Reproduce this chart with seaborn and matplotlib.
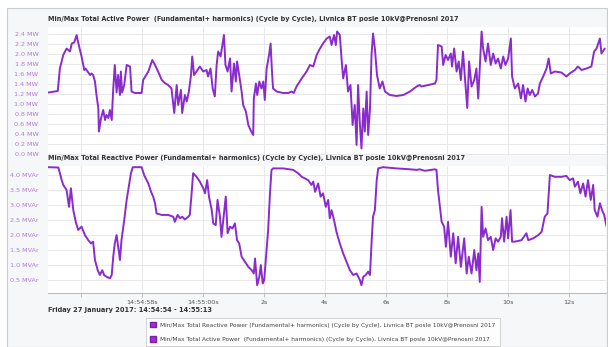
import numpy as np
import pandas as pd
import matplotlib
matplotlib.use("Agg")
import matplotlib.pyplot as plt
from matplotlib.patches import Rectangle, Patch
import seaborn as sns

# Time in seconds relative to 14:55:00
active_t = [-5.07, -4.76, -4.69, -4.58, -4.47, -4.36, -4.30, -4.22, -4.14, -4.09, -4.03, -3.98,
            -3.89, -3.85, -3.70, -3.65, -3.60, -3.54, -3.49, -3.43, -3.41, -3.34, -3.27, -3.21,
            -3.16, -3.10, -3.05, -2.99, -2.94, -2.89, -2.83, -2.78, -2.72, -2.69, -2.65, -2.58,
            -2.50, -2.39, -2.34, -2.23, -2.01, -1.96, -1.79, -1.66, -1.57, -1.47, -1.35, -1.25,
            -1.14, -1.03, -0.94, -0.86, -0.81, -0.72, -0.68, -0.59, -0.53, -0.46, -0.39, -0.35,
            -0.29, -0.21, -0.10, 0.01, 0.12, 0.17, 0.25, 0.32, 0.39, 0.45, 0.50, 0.58, 0.63, 0.69,
            0.74, 0.81, 0.89, 0.94, 1.02, 1.08, 1.12, 1.19, 1.27, 1.32, 1.41, 1.49, 1.56, 1.65,
            1.67, 1.74, 1.78, 1.85, 1.92, 1.98, 2.03, 2.09, 2.17, 2.22, 2.26, 2.30, 2.42, 2.63,
            2.80, 2.91, 2.98, 3.07, 3.24, 3.40, 3.51, 3.62, 3.73, 3.84, 3.94, 4.06, 4.16, 4.22,
            4.30, 4.36, 4.40, 4.49, 4.55, 4.60, 4.69, 4.76, 4.84, 4.91, 4.98, 5.04, 5.09, 5.15,
            5.20, 5.26, 5.31, 5.37, 5.42, 5.48, 5.53, 5.58, 5.64, 5.71, 5.80, 5.89, 5.97, 6.13,
            6.35, 6.57, 6.79, 7.01, 7.11, 7.17, 7.39, 7.61, 7.66, 7.71, 7.83, 7.88, 7.96, 8.04,
            8.13, 8.17, 8.24, 8.32, 8.39, 8.46, 8.53, 8.59, 8.67, 8.73, 8.81, 8.90, 8.97, 9.03,
            9.08, 9.14, 9.19, 9.27, 9.35, 9.44, 9.52, 9.60, 9.68, 9.77, 9.85, 9.92, 10.01, 10.10,
            10.14, 10.23, 10.34, 10.43, 10.50, 10.58, 10.65, 10.72, 10.80, 10.89, 10.99, 11.05,
            11.16, 11.27, 11.34, 11.41, 11.54, 11.76, 11.92, 12.03, 12.20, 12.30, 12.42, 12.58,
            12.74, 12.83, 12.91, 13.02, 13.07, 13.18]
active_mw = [1.23, 1.26, 1.71, 1.98, 2.11, 2.05, 2.21, 2.23, 2.38, 2.23, 2.08, 1.95,
             1.68, 1.71, 1.58, 1.61, 1.58, 1.45, 1.18, 0.92, 0.45, 0.72, 0.88, 0.68,
             0.78, 0.72, 0.88, 0.68, 1.31, 1.78, 1.23, 1.58, 1.18, 1.65, 1.23, 1.38,
             1.78, 1.75, 1.25, 1.22, 1.22, 1.48, 1.65, 1.88, 1.78, 1.65, 1.48, 1.42,
             1.38, 1.31, 0.82, 1.38, 0.98, 1.28, 0.82, 1.18, 1.05, 1.25, 1.58, 1.95,
             1.58, 1.65, 1.75, 1.65, 1.68, 1.55, 1.71, 1.31, 1.15, 1.78, 2.05, 1.95, 2.15, 2.38,
             1.78, 1.65, 1.91, 1.25, 1.81, 1.45, 1.85, 1.58, 1.25, 0.98, 0.85, 0.58, 0.48, 0.38,
             1.11, 1.41, 1.18, 1.45, 1.31, 1.45, 1.08, 1.71, 1.98, 2.21, 1.71, 1.31, 1.25, 1.22,
             1.22, 1.25, 1.22, 1.35, 1.51, 1.65, 1.78, 1.75, 1.98, 2.11, 2.21, 2.31, 2.35, 2.18,
             2.38, 2.18, 2.45, 2.38, 1.88, 1.51, 1.78, 1.25, 1.38, 0.58, 0.98, 0.18, 1.38, 0.58,
             0.11, 0.91, 0.45, 1.25, 0.38, 0.91, 1.98, 2.41, 2.11, 1.58, 1.31, 1.45, 1.25, 1.18,
             1.16, 1.18, 1.25, 1.35, 1.38, 1.35, 1.38, 1.41, 1.48, 2.18, 2.15, 1.78, 1.98, 1.88,
             2.01, 1.75, 2.11, 1.65, 1.85, 1.48, 2.05, 1.55, 0.92, 1.85, 1.35, 1.48, 1.71, 1.11,
             1.71, 2.45, 2.11, 1.85, 2.21, 1.78, 2.01, 1.81, 1.91, 1.71, 1.95, 1.78, 1.91, 2.31,
             1.55, 1.31, 1.41, 1.11, 1.38, 1.05, 1.31, 1.18, 1.28, 1.15, 1.21, 1.41,
             1.55, 1.71, 1.91, 1.61, 1.65, 1.63, 1.55, 1.61, 1.68, 1.75, 1.68, 1.71,
             1.75, 2.05, 2.11, 2.31, 2.01, 2.11]

reactive_t = [-5.07, -4.74, -4.63, -4.58, -4.47, -4.39, -4.33, -4.25, -4.17, -4.09, -3.98, -3.87,
              -3.76, -3.67, -3.60, -3.54, -3.45, -3.38, -3.30, -3.24, -3.16, -3.05, -2.99, -2.94,
              -2.89, -2.83, -2.78, -2.72, -2.67, -2.58, -2.50, -2.43, -2.36, -2.30, -2.01, -1.92,
              -1.79, -1.70, -1.63, -1.57, -1.52, -1.35, -1.14, -0.97, -0.92, -0.83, -0.75, -0.68,
              -0.59, -0.48, -0.43, -0.37, -0.32, -0.21, -0.10, 0.01, 0.07, 0.14, 0.20, 0.29, 0.34,
              0.42, 0.48, 0.56, 0.61, 0.69, 0.75, 0.81, 0.89, 0.97, 1.05, 1.12, 1.19, 1.27, 1.38,
              1.49, 1.60, 1.67, 1.71, 1.78, 1.85, 1.90, 1.96, 2.01, 2.07, 2.14, 2.20, 2.25, 2.30,
              2.63, 2.96, 3.12, 3.24, 3.34, 3.45, 3.56, 3.62, 3.68, 3.78, 3.86, 3.94, 4.03, 4.11,
              4.16, 4.22, 4.30, 4.38, 4.49, 4.60, 4.71, 4.82, 4.93, 5.04, 5.15, 5.20, 5.26, 5.34,
              5.42, 5.48, 5.53, 5.58, 5.64, 5.70, 5.75, 5.91, 6.35, 6.79, 7.01, 7.11, 7.28, 7.61,
              7.66, 7.71, 7.83, 7.91, 7.97, 8.04, 8.13, 8.21, 8.29, 8.37, 8.46, 8.57, 8.65, 8.72,
              8.81, 8.90, 8.97, 9.03, 9.08, 9.14, 9.19, 9.27, 9.35, 9.44, 9.52, 9.60, 9.68, 9.77,
              9.81, 9.88, 9.96, 10.01, 10.09, 10.14, 10.23, 10.45, 10.61, 10.67, 10.83, 11.00,
              11.11, 11.21, 11.30, 11.38, 11.54, 11.76, 11.92, 12.03, 12.14, 12.20, 12.30, 12.38,
              12.47, 12.55, 12.63, 12.72, 12.80, 12.85, 12.94, 13.02, 13.09, 13.16, 13.24]
reactive_mvar = [4.26, 4.25, 3.83, 3.67, 3.50, 2.94, 3.56, 2.83, 2.44, 2.17, 2.28, 2.00,
                 1.83, 1.72, 1.78, 1.17, 0.83, 0.67, 0.83, 0.67, 0.61, 0.56, 0.67, 1.28,
                 1.72, 2.00, 1.61, 1.17, 1.83, 2.50, 3.17, 3.61, 4.06, 4.26, 4.26, 3.98,
                 3.72, 3.44, 3.28, 3.06, 2.72, 2.67, 2.67, 2.61, 2.44, 2.67, 2.56, 2.61,
                 2.52, 2.61, 2.67, 3.39, 4.06, 3.94, 3.78, 3.56, 3.39, 3.83, 3.28, 2.83, 2.39,
                 2.33, 3.17, 2.61, 1.94, 2.72, 3.28, 2.06, 2.28, 2.22, 2.39, 1.83, 1.72, 1.28, 1.11,
                 0.94, 0.83, 0.72, 1.22, 0.33, 0.61, 1.00, 0.39, 0.50, 1.28, 2.17, 3.39, 4.17, 4.22,
                 4.22, 4.17, 4.06, 3.94, 3.89, 3.83, 3.67, 3.78, 3.44, 3.72, 3.28, 3.39, 2.94, 3.17,
                 2.56, 2.83, 2.50, 2.11, 1.72, 1.39, 1.11, 0.83, 0.67, 0.72, 0.50, 0.33, 0.61, 0.67,
                 0.78, 0.67, 1.72, 2.61, 2.83, 3.83, 4.22, 4.26, 4.22, 4.19, 4.17, 4.19, 4.14, 4.19,
                 4.17, 3.50, 2.44, 2.28, 1.61, 2.44, 1.28, 2.06, 1.06, 1.94, 0.94, 1.89, 0.72, 1.28,
                 0.72, 1.50, 0.83, 1.39, 0.44, 2.94, 1.94, 2.22, 1.83, 1.94, 1.50, 1.89, 1.78, 1.94,
                 2.56, 1.78, 2.61, 1.89, 2.83, 1.78, 1.78, 1.83, 2.06, 1.83, 1.89, 2.00,
                 2.11, 2.61, 2.72, 4.00, 3.94, 3.94, 3.97, 3.83, 3.89, 3.61, 3.78, 3.39,
                 3.72, 3.28, 3.83, 3.17, 3.67, 2.83, 2.61, 3.06, 2.83, 2.67, 2.28]

x_ticks = [-4, -2, 0, 2, 4, 6, 8, 10, 12]
x_tick_labels = ["", "14:54:58s", "14:55:00s", "2s", "4s", "6s", "8s", "10s", "12s"]
active_ticks = [0.0, 0.2, 0.4, 0.6, 0.8, 1.0, 1.2, 1.4, 1.6, 1.8, 2.0, 2.2, 2.4]
reactive_ticks = [0.5, 1.0, 1.5, 2.0, 2.5, 3.0, 3.5, 4.0]

active_title = ("Min/Max Total Active Power  (Fundamental+ harmonics) (Cycle by Cycle), "
                "Livnica BT posle 10kV@Prenosni 2017")
reactive_title = ("Min/Max Total Reactive Power (Fundamental+ harmonics) (Cycle by Cycle), "
                  "Livnica BT posle 10kV@Prenosni 2017")
period_text = "Friday 27 January 2017: 14:54:54 - 14:55:13"

LINE = "#8a2bcc"
TICK = "#b07ad8"
GRID = "#e8e8ec"
TEXT = "#333333"

sns.set_style("white")
plt.rcParams["font.family"] = ["DejaVu Sans"]

W, H = 608, 347
fig = plt.figure(figsize=(W / 100, H / 100), dpi=100)
fig.patch.set_facecolor("white")

# outer panel frame, kept behind the axes
frame = Rectangle((7 / W, 0), 600 / W, 1 - 8 / H, transform=fig.transFigure,
                  facecolor="#f6f7f9", edgecolor="#c9cdd3", linewidth=0.8, zorder=-10)
fig.patches.append(frame)


def px_axes(left, top, right, bottom):
    return fig.add_axes([left / W, 1 - bottom / H, (right - left) / W, (bottom - top) / H])


ax1 = px_axes(48, 27, 606, 155)
ax2 = px_axes(48, 166, 606, 293)

df_active = pd.DataFrame({"t": active_t, "v": active_mw})
df_reactive = pd.DataFrame({"t": reactive_t, "v": reactive_mvar})

sns.lineplot(data=df_active, x="t", y="v", ax=ax1, color=LINE, linewidth=1.4,
             estimator=None, sort=False)
sns.lineplot(data=df_reactive, x="t", y="v", ax=ax2, color=LINE, linewidth=1.4,
             estimator=None, sort=False)

xlim = (-5.08, 13.22)
for ax in (ax1, ax2):
    ax.set_facecolor("white")
    ax.set_xlim(*xlim)
    ax.set_xlabel("")
    ax.set_ylabel("")
    ax.set_xticks(x_ticks)
    ax.grid(True, color=GRID, linewidth=0.7)
    ax.set_axisbelow(True)
    for s in ax.spines.values():
        s.set_visible(False)
    ax.tick_params(axis="y", length=0, pad=7, labelsize=4.6, labelcolor=TICK)

ax1.set_ylim(-0.02, 2.54)
ax1.set_yticks(active_ticks)
ax1.set_yticklabels([f"{v:.1f} MW" for v in active_ticks])
ax1.tick_params(axis="x", length=0, labelbottom=False)

ax2.set_ylim(0.07, 4.3)
ax2.set_yticks(reactive_ticks)
ax2.set_yticklabels([f"{v:.1f} MVAr" for v in reactive_ticks])
ax2.set_xticklabels(x_tick_labels)
ax2.spines["bottom"].set_visible(True)
ax2.spines["bottom"].set_color("#b8b8b8")
ax2.spines["bottom"].set_linewidth(0.7)
ax2.tick_params(axis="x", length=3, width=0.6, color="#b8b8b8", pad=2,
                labelsize=4.6, labelcolor="#555555", bottom=True)

fig.text(48 / W, 1 - 19 / H, active_title, fontsize=4.7, fontweight="bold",
         color=TEXT, va="center", ha="left")
fig.text(48 / W, 1 - 158 / H, reactive_title, fontsize=4.7, fontweight="bold",
         color=TEXT, va="center", ha="left")
fig.text(48 / W, 1 - 310 / H, period_text, fontsize=4.8, fontweight="bold",
         color=TEXT, va="center", ha="left")

handles = [Patch(facecolor="#9b30d0", edgecolor="#7a1fb0"),
           Patch(facecolor="#9b30d0", edgecolor="#7a1fb0")]
leg = fig.legend(handles, [reactive_title, active_title], loc="upper left",
                 bbox_to_anchor=(143 / W, 1 - 315 / H), fontsize=4.2,
                 frameon=True, fancybox=False, handlelength=1.0, handleheight=1.0,
                 handletextpad=0.8, labelspacing=1.5, borderpad=0.7)
leg.get_frame().set_edgecolor("#c0c0c0")
leg.get_frame().set_linewidth(0.6)
for t in leg.get_texts():
    t.set_color("#444444")

fig.savefig("out.png", dpi=100)
